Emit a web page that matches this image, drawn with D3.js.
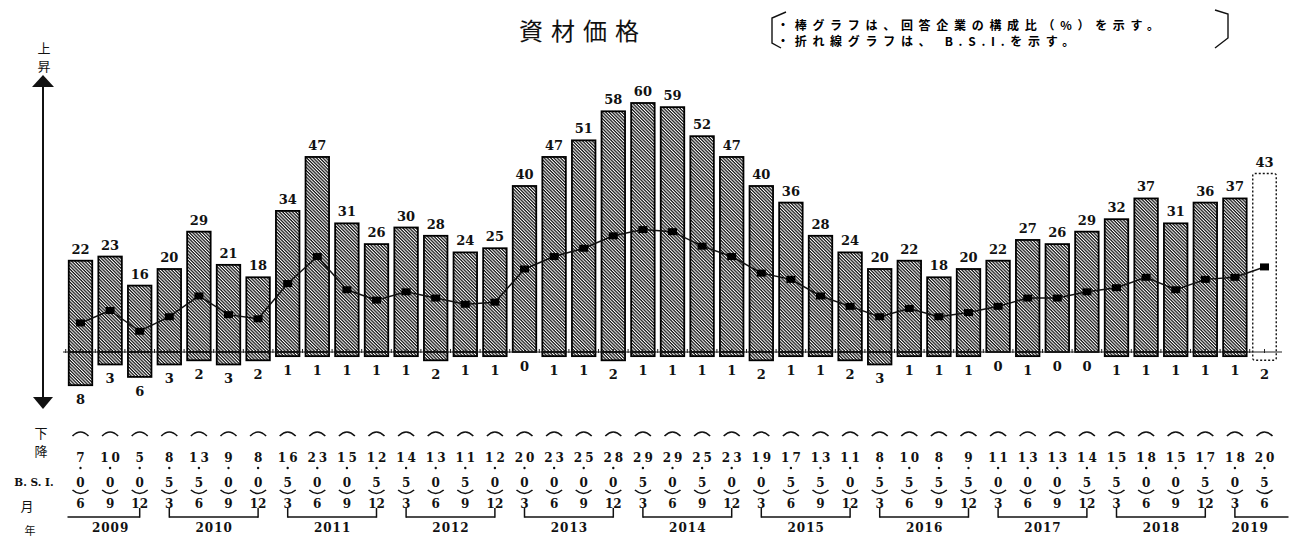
<!DOCTYPE html>
<html><head><meta charset="utf-8">
<script src="https://cdn.jsdelivr.net/npm/d3@7"></script>
<style>body{margin:0;background:#fff}svg{display:block}</style>
</head><body>
<script>
// ---- data ----
const years = ["2009","2010","2011","2012","2013","2014","2015","2016","2017","2018","2019"];
const months = [6,9,12, 3,6,9,12, 3,6,9,12, 3,6,9,12, 3,6,9,12, 3,6,9,12, 3,6,9,12, 3,6,9,12, 3,6,9,12, 3,6,9,12, 3,6];
const upShare = [22,23,16,20,29,21,18,34,47,31,26,30,28,24,25,40,47,51,58,60,59,52,47,40,36,28,24,20,22,18,20,22,27,26,29,32,37,31,36,37,43];
const downShare = [8,3,6,3,2,3,2,1,1,1,1,1,2,1,1,0,1,1,2,1,1,1,1,2,1,1,2,3,1,1,1,0,1,0,0,1,1,1,1,1,2];
const bsi = [7.0,10.0,5.0,8.5,13.5,9.0,8.0,16.5,23.0,15.0,12.5,14.5,13.0,11.5,12.0,20.0,23.0,25.0,28.0,29.5,29.0,25.5,23.0,19.0,17.5,13.5,11.0,8.5,10.5,8.5,9.5,11.0,13.0,13.0,14.5,15.5,18.0,15.0,17.5,18.0,20.5];
const forecastCount = 1; // last period is a forecast
const title = "資材価格";
const legendLines = ["・棒グラフは、回答企業の構成比（%）を示す。", "・折れ線グラフは、 B.S.I.を示す。"];

// categories (year-month)
let yi = 0;
const categories = months.map((m, i) => { if (i > 0 && m === 3) yi++; return years[yi] + "-" + m; });
const yearOfIdx = categories.map(c => c.split("-")[0]);

const W = 1298, H = 537;
const svg = d3.select("body").append("svg").attr("width", W).attr("height", H);

const x = d3.scalePoint().domain(categories).range([80.5, 1264.5]);
const step = x.step();
const bw = 23.5;
const y = d3.scaleLinear().domain([0, 60]).range([352, 103]);

const serif = "'DejaVu Serif', serif";
const jp = "'Noto Sans CJK JP', sans-serif";

// hatch pattern
const defs = svg.append("defs");
const pat = defs.append("pattern").attr("id", "hatch").attr("patternUnits", "userSpaceOnUse")
  .attr("width", 10).attr("height", 2.3).attr("patternTransform", "rotate(45)");
pat.append("rect").attr("width", 10).attr("height", 2.3).attr("fill", "#fff");
pat.append("rect").attr("width", 10).attr("height", 1.25).attr("fill", "#111");

const n = categories.length;
const isFc = i => i >= n - forecastCount;

// bars
const gBars = svg.append("g");
categories.forEach((c, i) => {
  const cx = x(c);
  if (isFc(i)) {
    gBars.append("rect").attr("x", cx - bw/2).attr("y", y(upShare[i])).attr("width", bw)
      .attr("height", y(-downShare[i]) - y(upShare[i])).attr("rx", 2)
      .attr("fill", "none").attr("stroke", "#111").attr("stroke-width", 1.4).attr("stroke-dasharray", "2,2");
    return;
  }
  gBars.append("rect").attr("x", cx - bw/2).attr("y", y(upShare[i])).attr("width", bw)
    .attr("height", y(0) - y(upShare[i])).attr("fill", "url(#hatch)").attr("stroke", "#000").attr("stroke-width", 1.8);
  if (downShare[i] > 0) {
    gBars.append("rect").attr("x", cx - bw/2).attr("y", y(0)).attr("width", bw)
      .attr("height", y(-downShare[i]) - y(0)).attr("fill", "url(#hatch)").attr("stroke", "#000").attr("stroke-width", 1.8);
  }
});

// baseline with ticks
svg.append("line").attr("x1", 63).attr("x2", 1282).attr("y1", y(0)).attr("y2", y(0))
  .attr("stroke", "#222").attr("stroke-width", 1.2);
categories.forEach(c => {
  [x(c) - step/2, x(c)].forEach(tx => {
    svg.append("line").attr("x1", tx).attr("x2", tx).attr("y1", y(0) - 3).attr("y2", y(0) + 1)
      .attr("stroke", "#222").attr("stroke-width", 1);
  });
});

// BSI line
svg.append("path").datum(bsi)
  .attr("d", d3.line().x((d, i) => x(categories[i])).y(d => y(d)))
  .attr("fill", "none").attr("stroke", "#111").attr("stroke-width", 1.5);
svg.append("g").selectAll("rect").data(bsi).join("rect")
  .attr("x", (d, i) => x(categories[i]) - 4.5).attr("y", d => y(d) - 3.5)
  .attr("width", 9).attr("height", 7).attr("fill", "#000");

// value labels
const lab = svg.append("g").attr("font-family", serif).attr("font-weight", "bold").attr("font-size", 13)
  .attr("text-anchor", "middle").attr("fill", "#111");
categories.forEach((c, i) => {
  lab.append("text").attr("x", x(c)).attr("y", y(upShare[i]) - 7).text(upShare[i]);
  lab.append("text").attr("x", x(c)).attr("y", y(-downShare[i]) + 19).text(downShare[i]);
});

// title & legend
svg.append("text").attr("x", 583).attr("y", 40).attr("text-anchor", "middle")
  .attr("font-family", jp).attr("font-size", 24).attr("letter-spacing", 8).attr("fill", "#111").text(title);
legendLines.forEach((t, i) => {
  svg.append("text").attr("x", 777).attr("y", 30 + i * 15.5).attr("font-family", jp).attr("font-weight", "bold")
    .attr("font-size", 12).attr("letter-spacing", 5.7).attr("fill", "#000").text(t);
});
svg.append("path").attr("d", "M786,12 L772,18 L772,43 L781,48").attr("fill", "none").attr("stroke", "#111").attr("stroke-width", 1.4);
svg.append("path").attr("d", "M1215,10 L1228,14 L1228,38 L1215,48").attr("fill", "none").attr("stroke", "#111").attr("stroke-width", 1.4);

// left arrow
svg.append("line").attr("x1", 43).attr("x2", 43).attr("y1", 85).attr("y2", 398).attr("stroke", "#111").attr("stroke-width", 2);
svg.append("path").attr("d", "M43,75 L32,87 L54,87 Z").attr("fill", "#111");
svg.append("path").attr("d", "M43,409 L33,397 L53,397 Z").attr("fill", "#111");
const side = svg.append("g").attr("font-family", jp).attr("font-size", 13).attr("text-anchor", "middle").attr("fill", "#111");
side.append("text").attr("x", 44).attr("y", 53).text("上");
side.append("text").attr("x", 44).attr("y", 71).text("昇");
side.append("text").attr("x", 41).attr("y", 438).text("下");
side.append("text").attr("x", 41).attr("y", 456).text("降");
side.append("text").attr("x", 27).attr("y", 511).attr("font-size", 13).text("月");
side.append("text").attr("x", 30).attr("y", 535).attr("font-size", 11).text("年");
svg.append("text").attr("x", 34).attr("y", 486).attr("text-anchor", "middle").attr("font-family", serif)
  .attr("font-weight", "bold").attr("font-size", 10.5).attr("fill", "#111").text("B. S. I.");

// bottom table
const tb = svg.append("g").attr("font-family", serif).attr("font-weight", "bold").attr("font-size", 12)
  .attr("text-anchor", "middle").attr("fill", "#111");
categories.forEach((c, i) => {
  const cx = x(c);
  svg.append("path").attr("d", `M${cx-8},${436} Q${cx},${428} ${cx+8},${436}`).attr("fill", "none").attr("stroke", "#111").attr("stroke-width", 1.6);
  const ip = Math.floor(bsi[i]);
  const dp = Math.round((bsi[i] - ip) * 10);
  tb.append("text").attr("x", cx + 1.5).attr("y", 462).attr("letter-spacing", 3).text(ip);
  tb.append("circle").attr("cx", cx).attr("cy", 468).attr("r", 1.2);
  tb.append("text").attr("x", cx).attr("y", 487).text(dp);
  svg.append("path").attr("d", `M${cx-8},${490} Q${cx},${497} ${cx+8},${490}`).attr("fill", "none").attr("stroke", "#111").attr("stroke-width", 1.6);
  tb.append("text").attr("x", cx).attr("y", 508).text(months[i]);
});

// year brackets
years.forEach(yr => {
  const idx = categories.map((c, i) => i).filter(i => yearOfIdx[i] === yr);
  const first = idx[0], last = idx[idx.length - 1];
  const xa = x(categories[first]), xb = x(categories[last]);
  const leftV = months[first] === 3, rightV = months[last] === 12;
  const x1 = leftV ? xa : xa - 13, x2 = rightV ? xb : xb + 24;
  svg.append("line").attr("x1", x1).attr("x2", x2).attr("y1", 517).attr("y2", 517).attr("stroke", "#111").attr("stroke-width", 1.5);
  if (leftV) svg.append("line").attr("x1", xa).attr("x2", xa).attr("y1", 508).attr("y2", 517.7).attr("stroke", "#111").attr("stroke-width", 1.5);
  if (rightV) svg.append("line").attr("x1", xb).attr("x2", xb).attr("y1", 508).attr("y2", 517.7).attr("stroke", "#111").attr("stroke-width", 1.5);
  tb.append("text").attr("x", (xa + xb) / 2 + 0.5).attr("y", 532).attr("letter-spacing", 1).text(yr);
});
</script>
</body></html>
